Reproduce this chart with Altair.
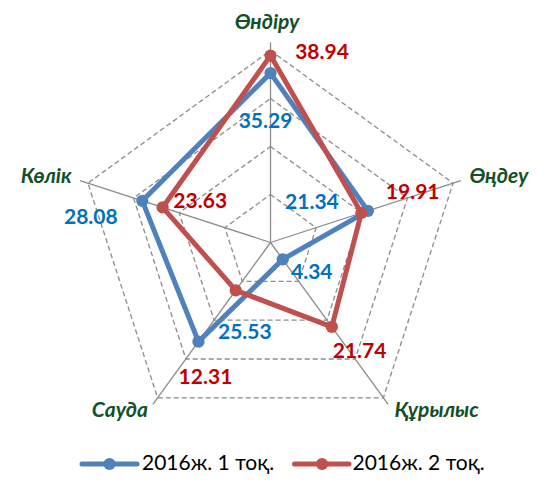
import math
import altair as alt
import pandas as pd

CATEGORIES = ["Өндіру", "Өңдеу", "Құрылыс", "Сауда", "Көлік"]
SERIES = ["2016ж. 1 тоқ.", "2016ж. 2 тоқ."]
VALUES_1 = [35.29, 21.34, 4.34, 25.53, 28.08]
VALUES_2 = [38.94, 19.91, 21.74, 12.31, 23.63]
GRID_LEVELS = [10, 20, 30, 40]
AXIS_MAX = 41.7

# label nudges in pixels (dx right, dy down)
LABEL_NUDGE_1 = [(-5, 48.6), (-56, -7.6), (29, 14), (46.4, -8.3), (-51.5, 17.5)]
LABEL_NUDGE_2 = [(51.5, -2.3), (51.3, -19.7), (27.7, 24.7), (-30.3, 88), (37.6, -5.8)]
CAT_NUDGE = [(-3.5, -19.5), (38, -4), (48.4, 7), (-33, 7), (-34, -4)]

LINE_COLORS = ["#4F81BD", "#C0504D"]
LABEL_COLORS = ["#0070C0", "#C00000"]
CAT_COLOR = "#135028"
FONT = "Lato"

K = 4.8  # px per unit
W, H = 521, 466
CX, CY = 262.5, 234.5
XDOM = [-CX / K, (W - CX) / K]
YDOM = [-(H - CY) / K, CY / K]
N = len(CATEGORIES)


def pos(i, r):
    a = 2 * math.pi * i / N
    return r * math.sin(a), r * math.cos(a)


xs = alt.Scale(domain=XDOM, nice=False, zero=False)
ys = alt.Scale(domain=YDOM, nice=False, zero=False)

# grid rings
grid_rows = []
for lv in GRID_LEVELS:
    for i in range(N + 1):
        x, y = pos(i % N, lv)
        grid_rows.append({"level": lv, "ord": i, "x": x, "y": y})
grid = alt.Chart(pd.DataFrame(grid_rows)).mark_line(
    color="#8C8C8C", strokeWidth=1.3, strokeDash=[5, 3]
).encode(
    x=alt.X("x:Q", scale=xs, axis=None),
    y=alt.Y("y:Q", scale=ys, axis=None),
    detail="level:N",
    order="ord:Q",
)

# spokes
spoke_rows = []
for i, c in enumerate(CATEGORIES):
    x, y = pos(i, AXIS_MAX)
    spoke_rows.append({"cat": c, "x0": 0.0, "y0": 0.0, "x": x, "y": y})
spokes = alt.Chart(pd.DataFrame(spoke_rows)).mark_rule(
    color="#8C8C8C", strokeWidth=1.3
).encode(
    x=alt.X("x0:Q", scale=xs, axis=None),
    y=alt.Y("y0:Q", scale=ys, axis=None),
    x2="x:Q",
    y2="y:Q",
)

# category labels
cat_rows = []
for i, c in enumerate(CATEGORIES):
    x, y = pos(i, AXIS_MAX)
    dx, dy = CAT_NUDGE[i]
    cat_rows.append({"cat": c, "x": x + dx / K, "y": y - dy / K})
cat_text = alt.Chart(pd.DataFrame(cat_rows)).mark_text(
    font=FONT, fontSize=21, fontWeight="bold", fontStyle="italic",
    color=CAT_COLOR, align="center", baseline="middle",
).encode(
    x=alt.X("x:Q", scale=xs, axis=None),
    y=alt.Y("y:Q", scale=ys, axis=None),
    text="cat:N",
)

layers = [grid, spokes, cat_text]

series_layers = []
label_layers = []
for s, vals, nudges, lc, tc in zip(
    SERIES, [VALUES_1, VALUES_2], [LABEL_NUDGE_1, LABEL_NUDGE_2], LINE_COLORS, LABEL_COLORS
):
    rows = []
    for i in range(N + 1):
        v = vals[i % N]
        x, y = pos(i % N, v)
        rows.append({"series": s, "ord": i, "value": v, "x": x, "y": y})
    df = pd.DataFrame(rows)
    base = alt.Chart(df)
    line = base.mark_line(color=lc, strokeWidth=5, strokeJoin="round").encode(
        x=alt.X("x:Q", scale=xs, axis=None),
        y=alt.Y("y:Q", scale=ys, axis=None),
        order="ord:Q",
    )
    pts = alt.Chart(df[df["ord"] < N]).mark_point(
        shape="circle", filled=True, size=150, color=lc, opacity=1
    ).encode(
        x=alt.X("x:Q", scale=xs, axis=None),
        y=alt.Y("y:Q", scale=ys, axis=None),
    )
    lab_rows = []
    for i in range(N):
        x, y = pos(i, vals[i])
        dx, dy = nudges[i]
        lab_rows.append({"value": vals[i], "x": x + dx / K, "y": y - dy / K})
    lab = alt.Chart(pd.DataFrame(lab_rows)).mark_text(
        font=FONT, fontSize=21, fontWeight="bold", color=tc,
        align="center", baseline="middle",
    ).encode(
        x=alt.X("x:Q", scale=xs, axis=None),
        y=alt.Y("y:Q", scale=ys, axis=None),
        text=alt.Text("value:Q", format=".2f"),
    )
    series_layers += [line, pts]
    label_layers.append(lab)

layers += series_layers + label_layers

# legend
LEG_Y = 456
LEG_POS = [(74, 129, 101.5, 134), (286.5, 341, 314, 344.5)]
one = pd.DataFrame({"a": [0]})
for s, lc, (x0, x1, xm, xt) in zip(SERIES, LINE_COLORS, LEG_POS):
    layers.append(alt.Chart(one).mark_rule(color=lc, strokeWidth=5, strokeCap="round").encode(
        x=alt.value(x0), x2=alt.value(x1), y=alt.value(LEG_Y)))
    layers.append(alt.Chart(one).mark_point(shape="circle", filled=True, size=150, color=lc, opacity=1).encode(
        x=alt.value(xm), y=alt.value(LEG_Y)))
    layers.append(alt.Chart(one).mark_text(text=s, font=FONT, fontSize=21, color="#000000",
                                          align="left", baseline="middle").encode(
        x=alt.value(xt), y=alt.value(LEG_Y)))

chart = alt.layer(*layers).properties(
    width=W, height=H, padding=0,
    autosize=alt.AutoSizeParams(type="none"),
    background="white",
).configure_view(stroke=None)

chart.save("out.html", embed_options={"renderer": "svg", "actions": False})
